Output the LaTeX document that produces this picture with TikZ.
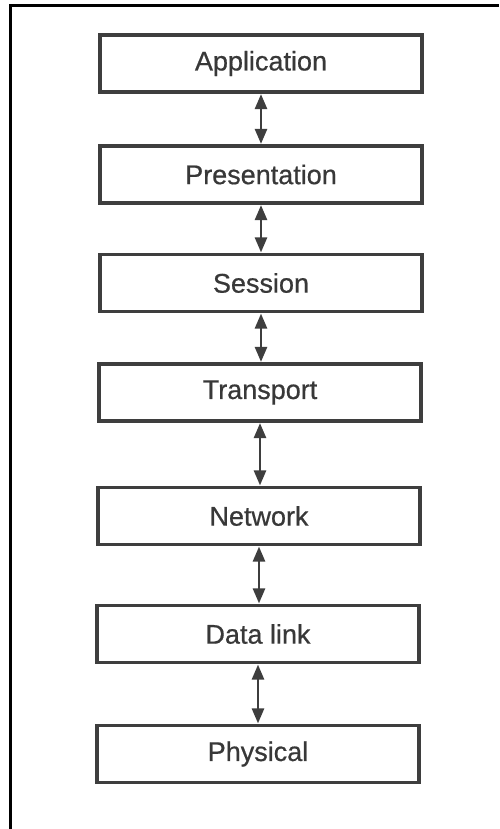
\documentclass[tikz,border=0pt]{standalone}
\usepackage{fontspec}
\setmainfont{Liberation Sans}[FakeBold=0.6]
\usetikzlibrary{arrows.meta}
\definecolor{ink}{HTML}{383838}
\definecolor{edge}{HTML}{3E3E3E}
\tikzset{
  layerbox/.style={draw=edge, line width=3.2pt, minimum width=322pt, minimum height=57pt,
    inner sep=0pt, text=ink, font=\fontsize{27}{32}\selectfont},
  link/.style={draw=edge, line width=2.6pt,
    {Triangle[width=12pt,length=15pt]}-{Triangle[width=12pt,length=15pt]}, shorten <=0.5pt, shorten >=0.5pt}
}
\begin{document}
\begin{tikzpicture}[x=1pt,y=-1pt]
  \useasboundingbox (0,0) rectangle (499,829);
  \fill[white] (0,0) rectangle (499,829);
  % page frame (left and top edges)
  \draw[black, line width=3pt] (10.5,829) -- (10.5,5.5) -- (499,5.5);
  % the seven layers
  \node[layerbox] (app)  at (261,63.5)  {Application};
  \node[layerbox] (pres) at (261,174.5) {Presentation};
  \node[layerbox] (sess) at (261,283)   {Session};
  \node[layerbox] (tran) at (260,392.5) {Transport};
  \node[layerbox] (netw) at (259,516)   {Network};
  \node[layerbox] (data) at (258,634)   {Data link};
  \node[layerbox] (phys) at (258,754)   {Physical};
  % links between adjacent layers
  \draw[link] (app.south)  -- (pres.north -| app.south);
  \draw[link] (pres.south) -- (sess.north -| pres.south);
  \draw[link] (sess.south) -- (tran.north -| sess.south);
  \draw[link] (tran.south) -- (netw.north -| tran.south);
  \draw[link] (netw.south) -- (data.north -| netw.south);
  \draw[link] (data.south) -- (phys.north -| data.south);
\end{tikzpicture}
\end{document}
